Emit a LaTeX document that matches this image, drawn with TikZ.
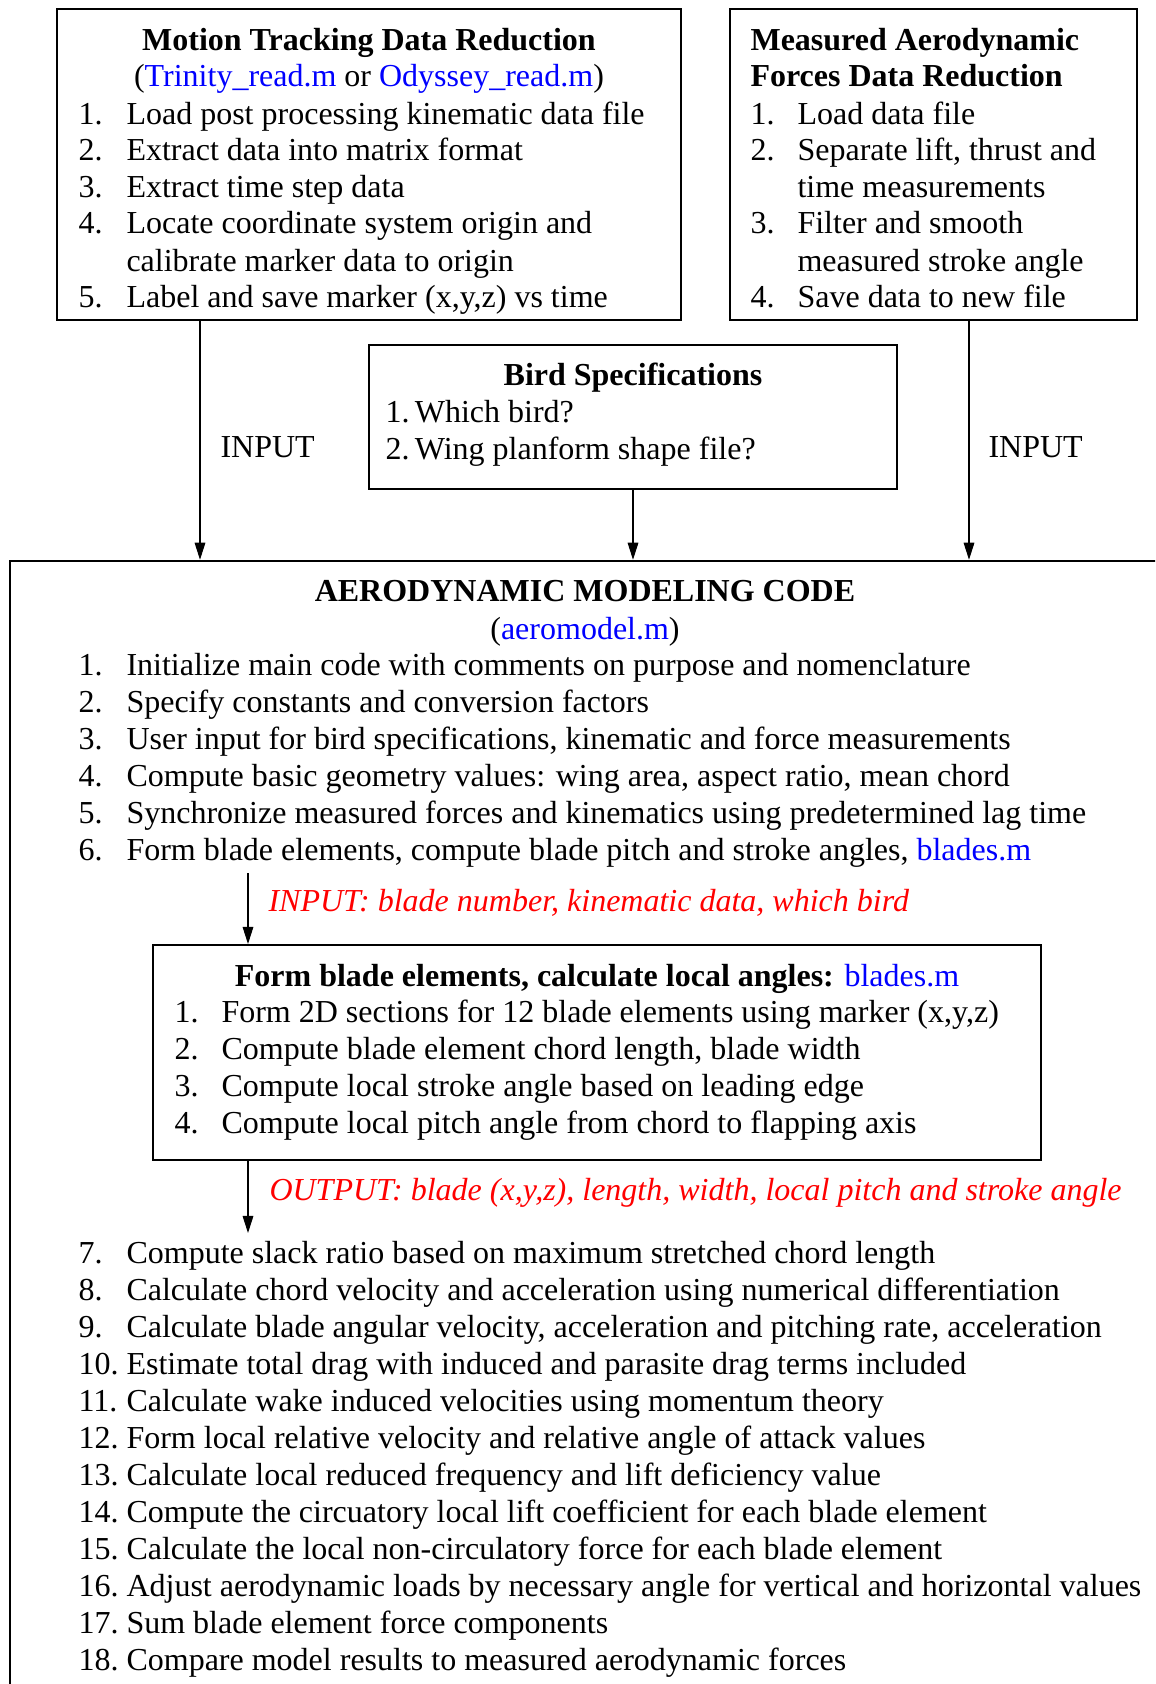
\documentclass[tikz,border=0pt]{standalone}
\usepackage{fontspec}
\setmainfont{Liberation Serif}
\usepackage{xcolor}
\definecolor{linkblue}{RGB}{0,0,255}
\definecolor{notered}{RGB}{255,0,0}
\usetikzlibrary{arrows.meta,positioning}
\tikzset{
  >={Triangle[length=6.4pt,width=4pt]},
  frame/.style ={draw,line width=0.8pt,inner sep=0pt},
  txt/.style   ={font=\fontsize{12}{14}\selectfont,anchor=base west,inner sep=0pt},
  head/.style  ={txt,font=\fontsize{12}{14}\selectfont\bfseries},
  note/.style  ={txt,font=\fontsize{12}{14}\selectfont\itshape,text=notered},
  flow/.style  ={->,line width=0.4pt},
}
\newcommand{\mfile}[1]{\textcolor{linkblue}{#1}}

\begin{document}
\begin{tikzpicture}[x=0.375pt,y=-0.375pt]
\useasboundingbox (0,0) rectangle (1155,1684);
\clip (0,0) rectangle (1155,1684);
% frames
\node[frame,minimum width=234pt,minimum height=116.6pt] (motion) at (369,164.5) {};
\node[frame,minimum width=152.6pt,minimum height=116.6pt] (forces) at (933.5,164.5) {};
\node[frame,minimum width=198pt,minimum height=54pt] (bird) at (633,417) {};
\node[frame,minimum width=446.3pt,minimum height=446pt] (model) at (605,1155.5) {};
\node[frame,minimum width=333pt,minimum height=80.6pt] (blades) at (597,1052.5) {};

% motion tracking box
\node[head,anchor=base] (mtitle) at (369,50.5) {Motion Tracking Data Reduction};
\node[txt,anchor=base] (mfiles) at (369,87) {(\mfile{Trinity\_read.m} or \mfile{Odyssey\_read.m})};
\foreach \y/\n/\t in {124.5/1./{Load post processing kinematic data file},
                      161/2./{Extract data into matrix format},
                      197.5/3./{Extract time step data},
                      234/4./{Locate coordinate system origin and},
                      271/{}/{calibrate marker data to origin},
                      307.5/5./{Label and save marker (x,y,z) vs time}}
  {\node[txt] at (78,\y) {\n};
   \node[txt] at (126,\y) {\t};}

% force measurement box
\node[head] (ftitle) at (750,50.5) {Measured Aerodynamic};
\node[head] (ftitleb) at (750,87) {Forces Data Reduction};
\foreach \y/\n/\t in {124.5/1./{Load data file},
                      161/2./{Separate lift, thrust and},
                      197.5/{}/{time measurements},
                      234/3./{Filter and smooth},
                      271/{}/{measured stroke angle},
                      307.5/4./{Save data to new file}}
  {\node[txt] at (750,\y) {\n};
   \node[txt] at (797,\y) {\t};}

% bird box
\node[head,anchor=base] (btitle) at (633,385.5) {Bird Specifications};
\node[txt] (bq1) at (385,422.5) {1.\,Which bird?};
\node[txt] (bq2) at (385,459) {2.\,Wing planform shape file?};

% inputs
\coordinate (in1) at (200,0);
\coordinate (in2) at (969,0);
\draw[flow] (motion.south -| in1) -- (model.north -| in1);
\draw[flow] (bird.south) -- (bird.south |- model.north);
\draw[flow] (forces.south -| in2) -- (model.north -| in2);
\node[txt] (lin1) at (220,457.5) {INPUT};
\node[txt] (lin2) at (988,457.5) {INPUT};

% modeling code
\node[head,anchor=base] (ctitle) at (585,601.5) {AERODYNAMIC MODELING CODE};
\node[txt,anchor=base] (cfile) at (585,639.5) {(\mfile{aeromodel.m})};
\foreach \t [count=\i, evaluate=\i as \y using 675.5+36.9*(\i-1)] in
   {{Initialize main code with comments on purpose and nomenclature},
    {Specify constants and conversion factors},
    {User input for bird specifications, kinematic and force measurements},
    {Compute basic geometry values: wing area, aspect ratio, mean chord},
    {Synchronize measured forces and kinematics using predetermined lag time},
    {Form blade elements, compute blade pitch and stroke angles, \mfile{blades.m}}}
  {\node[txt] at (78,\y) {\i.};
   \node[txt] at (126,\y) {\t};}

% blade element subroutine
\coordinate (split) at (248,873);
\coordinate (join) at (248,1233);
\draw[flow] (split) -- (split |- blades.north);
\node[note] (nin) at (268,911.5) {INPUT: blade number, kinematic data, which bird};
\node[head,anchor=base] (stitle) at (597,986)
  {Form blade elements, calculate local angles: \mdseries\mfile{blades.m}};
\foreach \t [count=\i, evaluate=\i as \y using 1022.5+37*(\i-1)] in
   {{Form 2D sections for 12 blade elements using marker (x,y,z)},
    {Compute blade element chord length, blade width},
    {Compute local stroke angle based on leading edge},
    {Compute local pitch angle from chord to flapping axis}}
  {\node[txt] at (174,\y) {\i.};
   \node[txt] at (221,\y) {\t};}
\draw[flow] (join |- blades.south) -- (join);
\node[note] (nout) at (269,1200.5) {OUTPUT: blade (x,y,z), length, width, local pitch and stroke angle};

% remaining steps
\foreach \t [count=\i from 7, evaluate=\i as \y using 1263.5+37*(\i-7)] in
   {{Compute slack ratio based on maximum stretched chord length},
    {Calculate chord velocity and acceleration using numerical differentiation},
    {Calculate blade angular velocity, acceleration and pitching rate, acceleration},
    {Estimate total drag with induced and parasite drag terms included},
    {Calculate wake induced velocities using momentum theory},
    {Form local relative velocity and relative angle of attack values},
    {Calculate local reduced frequency and lift deficiency value},
    {Compute the circuatory local lift coefficient for each blade element},
    {Calculate the local non-circulatory force for each blade element},
    {Adjust aerodynamic loads by necessary angle for vertical and horizontal values},
    {Sum blade element force components},
    {Compare model results to measured aerodynamic forces}}
  {\node[txt] at (78,\y) {\i.};
   \node[txt] at (126,\y) {\t};}
\end{tikzpicture}
\end{document}
